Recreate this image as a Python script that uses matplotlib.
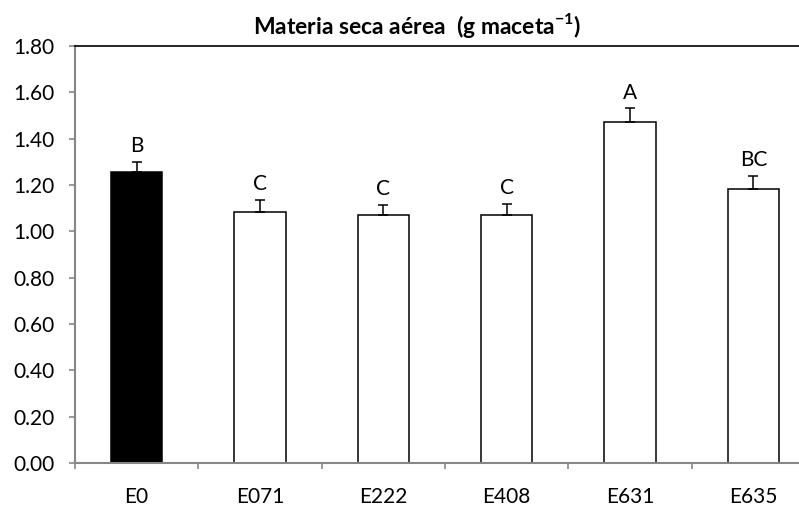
import matplotlib
matplotlib.use("Agg")
import matplotlib.pyplot as plt
import numpy as np

plt.rcParams['font.family'] = ['Lato', 'DejaVu Sans']
plt.rcParams['mathtext.fontset'] = 'custom'
plt.rcParams['mathtext.rm'] = 'Lato'
plt.rcParams['mathtext.bf'] = 'Lato:bold'

# Dry aerial matter per treatment
treatments = ["E0", "E071", "E222", "E408", "E631", "E635"]
means = [1.257, 1.085, 1.070, 1.070, 1.473, 1.183]
std_err = [0.043, 0.050, 0.043, 0.050, 0.058, 0.057]
groups = ["B", "C", "C", "C", "A", "BC"]
fills = ["black", "white", "white", "white", "white", "white"]
y_ticks = [0.0, 0.2, 0.4, 0.6, 0.8, 1.0, 1.2, 1.4, 1.6, 1.8]

FS = 15

fig = plt.figure(figsize=(7.99, 5.08), dpi=100)
ax = fig.add_axes([75 / 799, 45 / 508, 740 / 799, 417 / 508])

x = np.arange(len(treatments))
ax.bar(x, means, width=0.415, color=fills, edgecolor="black", linewidth=1.1, zorder=2)
ax.errorbar(x, means, yerr=[[0] * len(means), std_err], fmt="none",
            ecolor="black", elinewidth=1.1, capsize=3.6, capthick=1.1, zorder=3)

for xi, m, e, g in zip(x, means, std_err, groups):
    ax.annotate(g, (xi, m + e), xytext=(0, 7), textcoords="offset points",
                ha="center", va="baseline", fontsize=FS)

ax.set_xlim(-0.5, len(treatments) - 0.5)
ax.set_ylim(0, 1.8)
ax.set_yticks(y_ticks)
ax.set_yticklabels([f"{v:.2f}" for v in y_ticks], fontsize=FS)
ax.set_xticks(x)
ax.set_xticklabels(treatments, fontsize=FS)
ax.set_xticks(np.arange(-0.5, len(treatments), 1.0), minor=True)

ax.tick_params(axis="x", which="major", length=0, pad=17)
ax.tick_params(axis="x", which="minor", length=4, width=1.2, color="#868686", direction="out")
ax.tick_params(axis="y", length=4, width=1.2, color="#868686", direction="out", pad=11)

for side in ("left", "bottom"):
    ax.spines[side].set_color("#868686")
    ax.spines[side].set_linewidth(1.5)
ax.spines["top"].set_color("black")
ax.spines["top"].set_linewidth(1.2)
ax.spines["right"].set_visible(False)

fig.text(417 / 799, 1 - 25 / 508, "Materia seca aérea  (g maceta$^{\\mathbf{-1}}$)",
         ha="center", va="center", fontsize=16.5, fontweight="bold")

fig.savefig("out.png", dpi=100)
